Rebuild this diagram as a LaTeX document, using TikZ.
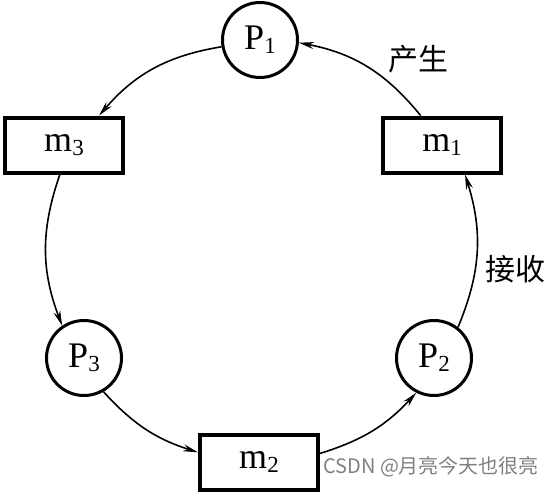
\documentclass[tikz,border=0pt]{standalone}
\usepackage{fontspec}
\setmainfont{Liberation Serif}
\newfontfamily\cjk{Noto Sans CJK SC}
\usetikzlibrary{arrows.meta}
\newcommand\sbs[1]{\raisebox{-0.12em}{\fontsize{23}{23}\selectfont #1}}
\begin{document}
\begin{tikzpicture}[x=1pt,y=-1pt,
  proc/.style={circle,draw,line width=3pt,minimum size=75pt,inner sep=0pt,font=\fontsize{36}{36}\selectfont},
  msg/.style={rectangle,draw,line width=4pt,minimum width=118pt,minimum height=55pt,inner sep=0pt,font=\fontsize{36}{36}\selectfont},
  conn/.style={line width=1.6pt,-{Stealth[length=15pt,width=7pt]}},
  lbl/.style={font=\cjk\fontsize{30}{30}\selectfont}]
\useasboundingbox (0,0) rectangle (550,498);
\node[proc] (P1) at (260,40) {P\sbs{1}};
\node[msg] (m3) at (64,145) {m\sbs{3}};
\node[msg] (m1) at (442,145) {m\sbs{1}};
\node[proc] (P3) at (84,358) {P\sbs{3}};
\node[proc] (P2) at (434,358) {P\sbs{2}};
\node[msg] (m2) at (259,462) {m\sbs{2}};
\draw[conn] (P1.190) to[bend right=20] (m3.40);
\draw[conn] (m3.-98) to[bend right=20] (P3.124);
\draw[conn] (P3.-60) to[bend right=15] (m2.171);
\draw[conn] (m2.8) to[bend right=15] (P2.243);
\draw[conn] (P2.52) to[bend right=20] (m1.-52);
\draw[conn] (m1.126) to[bend right=20] (P1.-4);
\node[lbl] (l1) at (418,59) {产生};
\node[lbl] (l2) at (515,269) {接收};
\node[font=\cjk\fontsize{20}{20}\selectfont,text=black!50,anchor=west,inner sep=0pt] (wm) at (323,467) {CSDN @月亮今天也很亮};
\end{tikzpicture}
\end{document}
